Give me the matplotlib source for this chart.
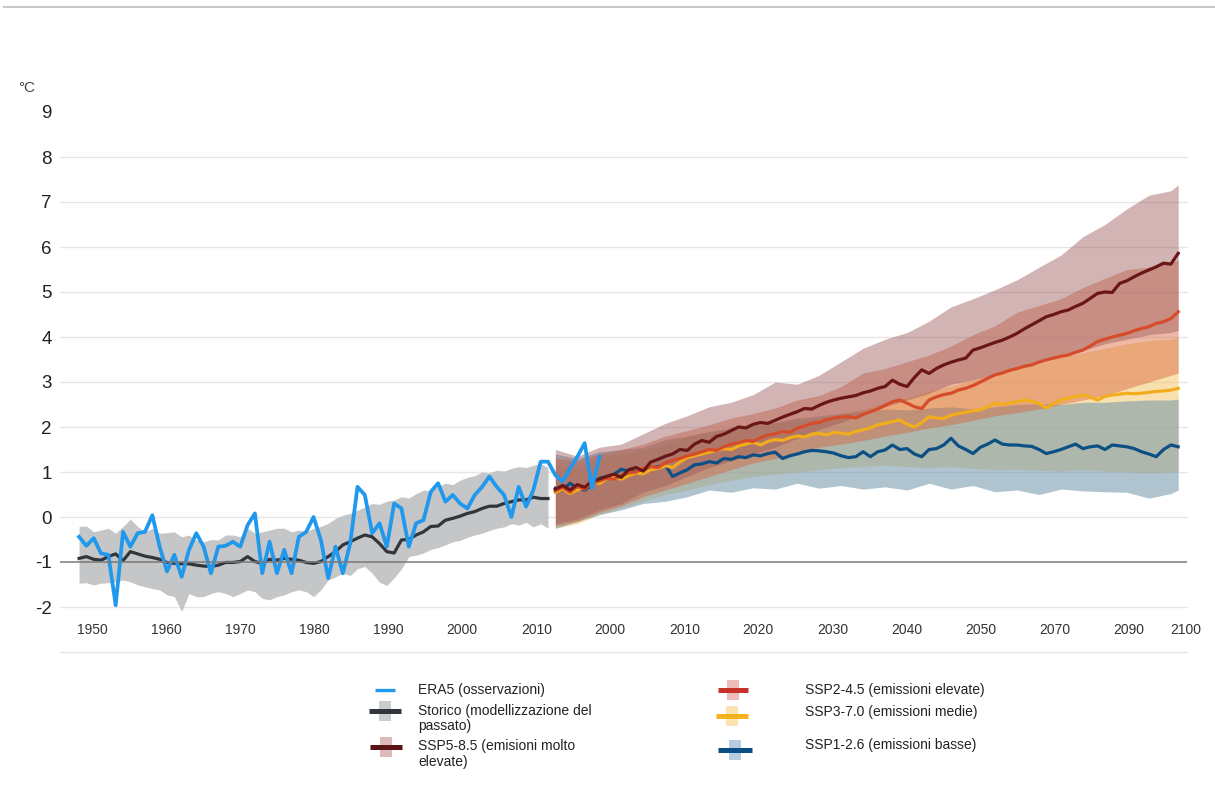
import numpy as np
import matplotlib
matplotlib.use("Agg")
import matplotlib.pyplot as plt
from matplotlib.lines import Line2D
from matplotlib.patches import Rectangle

plt.rcParams["font.family"] = ["Liberation Sans", "DejaVu Sans"]

W, H = 1215, 805

# ---- data ----
era5 = [
    -0.44, -0.64, -0.47, -0.81, -0.84, -1.96, -0.33, -0.66, -0.36, -0.33,
    0.04, -0.66, -1.21, -0.84, -1.33, -0.73, -0.36, -0.66, -1.25, -0.66,
    -0.64, -0.55, -0.66, -0.18, 0.08, -1.25, -0.55, -1.25, -0.73, -1.25,
    -0.44, -0.33, 0.00, -0.51, -1.36, -0.66, -1.25, -0.59, 0.67, 0.49,
    -0.36, -0.14, -0.66, 0.30, 0.19, -0.66, -0.14, -0.07, 0.56, 0.75,
    0.34, 0.49, 0.30, 0.19, 0.49, 0.67, 0.90, 0.67, 0.49, 0.00,
    0.67, 0.23, 0.60, 1.23, 1.23, 0.93, 0.79, 1.08, 1.34, 1.64,
    0.64, 1.34,
]
era5_years = np.arange(1950, 1950 + len(era5))

hist_mean = [
    -0.92, -0.88, -0.94, -0.96, -0.88, -0.82, -0.97, -0.77, -0.82, -0.87,
    -0.90, -0.94, -1.01, -1.03, -1.04, -1.04, -1.07, -1.09, -1.10, -1.07,
    -1.01, -1.01, -0.99, -0.88, -0.99, -1.03, -0.94, -0.96, -0.92, -0.94,
    -0.96, -1.01, -1.03, -0.99, -0.88, -0.77, -0.62, -0.55, -0.47, -0.40,
    -0.44, -0.59, -0.77, -0.80, -0.51, -0.50, -0.40, -0.33, -0.21, -0.20,
    -0.07, -0.03, 0.02, 0.08, 0.12, 0.19, 0.24, 0.24, 0.30, 0.34,
    0.38, 0.38, 0.44, 0.41, 0.41,
]
hist_high = [
    -0.21, -0.20, -0.33, -0.29, -0.25, -0.36, -0.21, -0.05, -0.21, -0.33,
    -0.25, -0.36, -0.35, -0.33, -0.44, -0.40, -0.51, -0.55, -0.50, -0.51,
    -0.40, -0.40, -0.44, -0.25, -0.36, -0.33, -0.29, -0.25, -0.25, -0.33,
    -0.29, -0.33, -0.25, -0.21, -0.14, -0.03, 0.04, 0.08, 0.15, 0.22,
    0.30, 0.28, 0.35, 0.38, 0.45, 0.42, 0.52, 0.60, 0.58, 0.68,
    0.75, 0.72, 0.82, 0.88, 0.92, 1.00, 0.98, 1.04, 1.02, 1.08,
    1.12, 1.10, 1.15, 1.19, 1.10,
]
hist_low = [
    -1.47, -1.46, -1.51, -1.47, -1.46, -1.44, -1.40, -1.44, -1.51, -1.55,
    -1.59, -1.62, -1.73, -1.77, -2.10, -1.70, -1.77, -1.77, -1.70, -1.66,
    -1.70, -1.77, -1.70, -1.62, -1.66, -1.81, -1.84, -1.77, -1.73, -1.66,
    -1.62, -1.66, -1.77, -1.62, -1.40, -1.33, -1.25, -1.30, -1.15, -1.10,
    -1.25, -1.45, -1.52, -1.35, -1.15, -0.88, -0.85, -0.80, -0.72, -0.68,
    -0.62, -0.55, -0.52, -0.45, -0.40, -0.36, -0.30, -0.25, -0.22, -0.15,
    -0.18, -0.12, -0.22, -0.15, -0.25,
]
hist_years = np.arange(1950, 1950 + len(hist_mean))

ssp585 = [
    0.62, 0.70, 0.60, 0.72, 0.66, 0.80, 0.84, 0.90, 0.95, 0.88,
    1.05, 1.10, 1.02, 1.22, 1.28, 1.35, 1.40, 1.50, 1.48, 1.62,
    1.70, 1.66, 1.79, 1.84, 1.92, 2.00, 1.98, 2.06, 2.10, 2.08,
    2.15, 2.22, 2.28, 2.34, 2.41, 2.40, 2.48, 2.55, 2.60, 2.64,
    2.67, 2.70, 2.76, 2.80, 2.86, 2.90, 3.04, 2.95, 2.90, 3.10,
    3.27, 3.19, 3.30, 3.38, 3.44, 3.49, 3.53, 3.71, 3.76, 3.82,
    3.88, 3.93, 4.00, 4.08, 4.18, 4.27, 4.36, 4.45, 4.50, 4.56,
    4.60, 4.68, 4.75, 4.86, 4.97, 5.00, 4.99, 5.19, 5.25, 5.34,
    5.42, 5.49, 5.56, 5.64, 5.62, 5.86,
]
ssp245 = [
    0.58, 0.66, 0.55, 0.68, 0.62, 0.75, 0.80, 0.86, 0.84, 0.92,
    0.98, 1.00, 1.08, 1.12, 1.10, 1.20, 1.26, 1.30, 1.36, 1.40,
    1.45, 1.50, 1.48, 1.56, 1.62, 1.65, 1.70, 1.68, 1.76, 1.82,
    1.85, 1.90, 1.88, 1.97, 2.02, 2.08, 2.10, 2.16, 2.20, 2.22,
    2.23, 2.20, 2.28, 2.34, 2.40, 2.48, 2.56, 2.60, 2.53, 2.45,
    2.41, 2.60, 2.67, 2.72, 2.75, 2.82, 2.86, 2.92, 3.00, 3.08,
    3.16, 3.20, 3.26, 3.30, 3.35, 3.38, 3.44, 3.49, 3.53, 3.57,
    3.60, 3.66, 3.71, 3.80, 3.90, 3.95, 4.00, 4.04, 4.08, 4.14,
    4.19, 4.23, 4.30, 4.34, 4.41, 4.56,
]
ssp370 = [
    0.55, 0.62, 0.52, 0.60, 0.66, 0.79, 0.74, 0.85, 0.88, 0.84,
    0.92, 0.98, 0.96, 1.05, 1.08, 1.14, 1.10, 1.22, 1.32, 1.36,
    1.40, 1.44, 1.48, 1.52, 1.50, 1.58, 1.62, 1.66, 1.60, 1.68,
    1.72, 1.70, 1.76, 1.80, 1.78, 1.84, 1.86, 1.82, 1.88, 1.86,
    1.84, 1.90, 1.94, 1.98, 2.05, 2.08, 2.12, 2.16, 2.06, 2.00,
    2.10, 2.23, 2.20, 2.19, 2.26, 2.30, 2.33, 2.36, 2.38, 2.45,
    2.53, 2.50, 2.53, 2.56, 2.60, 2.57, 2.52, 2.42, 2.52, 2.60,
    2.64, 2.68, 2.71, 2.66, 2.60, 2.68, 2.71, 2.73, 2.75, 2.74,
    2.75, 2.77, 2.79, 2.80, 2.82, 2.86,
]
ssp126 = [
    0.64, 0.60, 0.75, 0.64, 0.60, 0.71, 0.86, 0.90, 0.95, 1.06,
    1.02, 1.00, 1.04, 1.08, 1.12, 1.16, 0.90, 0.98, 1.05, 1.16,
    1.18, 1.23, 1.20, 1.30, 1.28, 1.34, 1.32, 1.38, 1.36, 1.41,
    1.44, 1.30, 1.36, 1.40, 1.45, 1.48, 1.47, 1.45, 1.42, 1.36,
    1.32, 1.34, 1.45, 1.34, 1.45, 1.49, 1.60, 1.50, 1.52, 1.40,
    1.34, 1.50, 1.52, 1.60, 1.75, 1.58, 1.50, 1.41, 1.55, 1.62,
    1.71, 1.62, 1.60, 1.60, 1.58, 1.57, 1.50, 1.41, 1.45, 1.50,
    1.56, 1.62, 1.52, 1.56, 1.58, 1.50, 1.60, 1.58, 1.56, 1.52,
    1.45, 1.40, 1.34, 1.50, 1.60, 1.56,
]
ssp_years = np.arange(2015, 2015 + len(ssp126))

band_years = [2015, 2018, 2021, 2024, 2027, 2030, 2033, 2036, 2039, 2042,
              2045, 2048, 2051, 2054, 2057, 2060, 2063, 2066, 2069, 2072,
              2075, 2078, 2081, 2084, 2087, 2090, 2093, 2096, 2099, 2100]
ssp585_high = [1.50, 1.35, 1.55, 1.62, 1.85, 2.08, 2.25, 2.45, 2.55, 2.72,
               3.00, 2.95, 3.15, 3.45, 3.75, 3.95, 4.10, 4.35, 4.67, 4.85,
               5.05, 5.27, 5.55, 5.82, 6.23, 6.50, 6.85, 7.15, 7.25, 7.38]
ssp585_low = [-0.15, -0.05, 0.15, 0.30, 0.55, 0.70, 0.90, 1.10, 1.25, 1.40,
              1.55, 1.75, 1.95, 2.10, 2.30, 2.45, 2.60, 2.75, 2.95, 3.05,
              3.15, 3.30, 3.45, 3.60, 3.70, 3.85, 3.95, 4.05, 4.10, 4.15]
ssp245_high = [1.30, 1.25, 1.40, 1.50, 1.62, 1.80, 1.92, 2.05, 2.20, 2.30,
               2.42, 2.60, 2.70, 2.90, 3.20, 3.30, 3.45, 3.60, 3.80, 4.05,
               4.25, 4.55, 4.70, 4.85, 5.10, 5.30, 5.50, 5.55, 5.65, 5.71]
ssp245_low = [-0.20, -0.10, 0.10, 0.25, 0.45, 0.60, 0.75, 0.90, 1.05, 1.20,
              1.30, 1.42, 1.55, 1.62, 1.70, 1.80, 1.88, 1.98, 2.05, 2.15,
              2.25, 2.32, 2.40, 2.50, 2.60, 2.70, 2.85, 3.00, 3.15, 3.20]
ssp370_high = [1.15, 1.10, 1.30, 1.40, 1.50, 1.62, 1.78, 1.90, 1.95, 2.05,
               2.10, 2.15, 2.20, 2.30, 2.40, 2.55, 2.65, 2.80, 2.90, 3.05,
               3.15, 3.30, 3.40, 3.55, 3.65, 3.75, 3.85, 3.92, 3.95, 4.00]
ssp370_low = [-0.25, -0.15, 0.05, 0.20, 0.35, 0.50, 0.60, 0.72, 0.82, 0.90,
              0.95, 1.00, 1.05, 1.10, 1.12, 1.15, 1.12, 1.10, 1.12, 1.08,
              1.05, 1.06, 1.04, 1.02, 1.05, 1.02, 1.00, 0.98, 1.00, 1.00]
ssp126_high = [1.40, 1.30, 1.45, 1.50, 1.55, 1.72, 1.80, 1.90, 1.98, 2.05,
               2.10, 2.20, 2.25, 2.30, 2.35, 2.40, 2.38, 2.42, 2.45, 2.40,
               2.45, 2.50, 2.52, 2.50, 2.55, 2.55, 2.58, 2.60, 2.60, 2.62]
ssp126_low = [-0.25, -0.10, 0.05, 0.16, 0.30, 0.35, 0.45, 0.60, 0.55, 0.65,
              0.62, 0.75, 0.64, 0.70, 0.62, 0.67, 0.60, 0.75, 0.62, 0.70,
              0.56, 0.60, 0.50, 0.62, 0.58, 0.56, 0.55, 0.42, 0.52, 0.60]

tick_labels = ["1950", "1960", "1970", "1980", "1990", "2000", "2010", "2000",
               "2010", "2020", "2030", "2040", "2050", "2070", "2090", "2100"]
y_ticks = list(range(-2, 10))

# ---- figure ----
fig = plt.figure(figsize=(W / 100, H / 100), dpi=100)
fig.patch.set_facecolor("white")

# axes placed in pixel terms: left 60, right 1187, bottom 652 (y=-3), top ~98
ax = fig.add_axes([60 / W, (H - 652) / H, 1127 / W, (652 - 98.5) / H])
ax.set_xlim(1947.4, 2101.2)
ax.set_ylim(-3, 9.3)
for s in ax.spines.values():
    s.set_visible(False)

for v in range(-3, 9):
    if v == -1:
        continue
    ax.axhline(v, color="#e6e6e6", lw=1.0, zorder=0, clip_on=False)
ax.axhline(-1, color="#7a7a7a", lw=1.1, zorder=6)

# historical band + SSP bands
ax.fill_between(hist_years, hist_low, hist_high, color="#bfc0c2", alpha=0.9, lw=0, zorder=1)
ax.fill_between(band_years, ssp370_low, ssp370_high, color="#f4c055", alpha=0.47, lw=0, zorder=2)
ax.fill_between(band_years, ssp126_low, ssp126_high, color="#6f95aa", alpha=0.55, lw=0, zorder=2)
ax.fill_between(band_years, ssp245_low, ssp245_high, color="#d8623a", alpha=0.45, lw=0, zorder=2)
ax.fill_between(band_years, ssp585_low, ssp585_high, color="#9c5a5a", alpha=0.45, lw=0, zorder=2)

# lines
ax.plot(hist_years, hist_mean, color="#30363b", lw=2.3, zorder=4)
ax.plot(ssp_years, ssp126, color="#0b4f84", lw=2.3, zorder=4)
ax.plot(ssp_years, ssp370, color="#f2ad1c", lw=2.3, zorder=4)
ax.plot(ssp_years, ssp245, color="#d64c2a", lw=2.3, zorder=4)
ax.plot(ssp_years, ssp585, color="#6b1616", lw=2.3, zorder=4)
ax.plot(era5_years, era5, color="#1f98ee", lw=2.7, zorder=5)

# ticks
tick_pos = [1951.8 + 10.1 * i for i in range(15)] + [2101.0]
ax.set_xticks(tick_pos, tick_labels)
ax.set_yticks(y_ticks, [str(v) for v in y_ticks])
ax.tick_params(axis="x", length=0, pad=-15.8, labelsize=10, labelcolor="#333333")
ax.tick_params(axis="y", length=0, pad=6, labelsize=13.5, labelcolor="#222222")
for lab in ax.get_xticklabels():
    lab.set_va("center")

fig.text(18 / W, 1 - 88 / H, "°C", fontsize=11, color="#444444", ha="left", va="center")

# thin rule along the top
fig.add_artist(Line2D([4 / W, 1], [1 - 7 / H] * 2, transform=fig.transFigure,
                      color="#c8c8c8", lw=1.5))


# ---- legend (drawn by hand to match the layout) ----
def handle(cx, cy, color, band=None, w=32, lw=3.6):
    if band:
        fig.add_artist(Rectangle(((cx - 6) / W, 1 - (cy + 10) / H), 12 / W, 20 / H,
                                 transform=fig.transFigure, color=band, lw=0))
    fig.add_artist(Line2D([(cx - w / 2) / W, (cx + w / 2) / W], [1 - cy / H] * 2,
                          transform=fig.transFigure, color=color, lw=lw,
                          solid_capstyle="butt"))


def label(x, y, text):
    fig.text(x / W, 1 - y / H, text, fontsize=10, color="#222222",
             ha="left", va="center", linespacing=1.15)


handle(385, 690, "#1f98ee", w=20, lw=2.4)
label(418, 690, "ERA5 (osservazioni)")
handle(385, 711, "#30363b", band="#c9ccd0")
label(418, 718.5, "Storico (modellizzazione del\npassato)")
handle(386, 747, "#5a1414", band="#ddb9b9")
label(418, 754, "SSP5-8.5 (emisioni molto\nelevate)")

handle(733, 690, "#c8302a", band="#efbcbc", w=30)
label(805, 690, "SSP2-4.5 (emissioni elevate)")
handle(732, 716, "#f5b21c", band="#fbe3b2", w=32)
label(805, 712, "SSP3-7.0 (emissioni medie)")
handle(735, 750, "#0b4f84", band="#b5cde2", w=34)
label(805, 745, "SSP1-2.6 (emissioni basse)")

fig.savefig("out.png", dpi=100, facecolor="white")
